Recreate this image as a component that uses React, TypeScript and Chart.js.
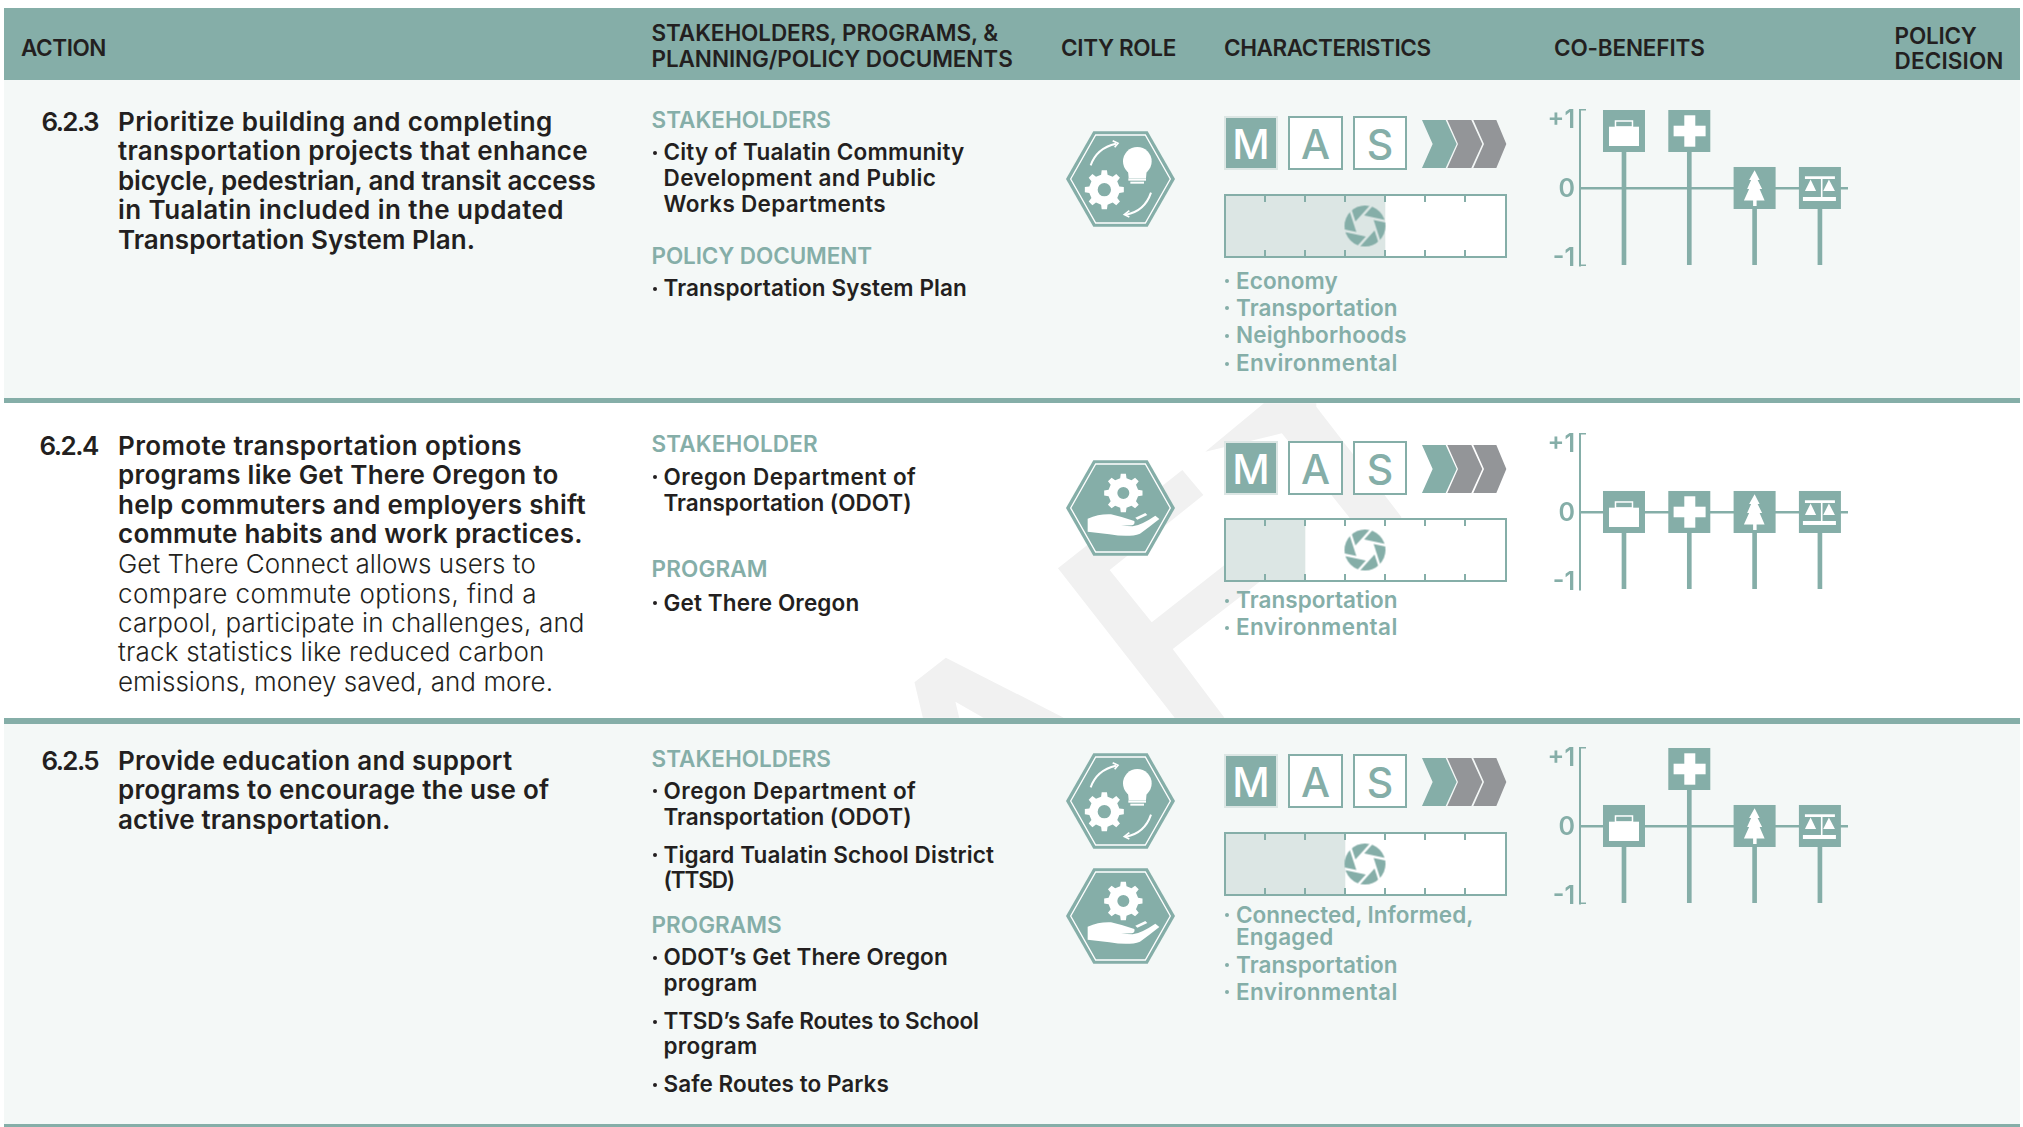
import React, { useEffect, useRef } from "react";
import { Chart, registerables } from "chart.js";

Chart.register(...registerables);

// ---------- data ----------
const headerAction = "ACTION";
const headerStake = ["STAKEHOLDERS, PROGRAMS, &", "PLANNING/POLICY DOCUMENTS"];
const headerRole = "CITY ROLE";
const headerChar = "CHARACTERISTICS";
const headerCo = "CO-BENEFITS";
const headerPolicy = ["POLICY", "DECISION"];

const actionIds = ["6.2.3", "6.2.4", "6.2.5"];
const action1Bold = [
  "Prioritize building and completing",
  "transportation projects that enhance",
  "bicycle, pedestrian, and transit access",
  "in Tualatin included in the updated",
  "Transportation System Plan.",
];
const action2Bold = [
  "Promote transportation options",
  "programs like Get There Oregon to",
  "help commuters and employers shift",
  "commute habits and work practices.",
];
const action2Light = [
  "Get There Connect allows users to",
  "compare commute options, find a",
  "carpool, participate in challenges, and",
  "track statistics like reduced carbon",
  "emissions, money saved, and more.",
];
const action3Bold = [
  "Provide education and support",
  "programs to encourage the use of",
  "active transportation.",
];

const coBenefitCategories = ["Economy", "Health", "Environment", "Equity"];
const coBenefitRow1 = [1, 1, 0, 0];
const coBenefitRow2 = [0, 0, 0, 0];
const coBenefitRow3 = [0, 1, 0, 0];
const coBenefitTicks = [1, 0, -1];

const progressSteps = 7;
const progressRow1 = [4];
const progressRow2 = [2];
const progressRow3 = [3];

// ---------- styling ----------
const TEAL = "#85aea8";
const DARK = "#231f20";
const PALE = "#f4f8f7";
const FILL = "#dce6e4";
const GRAY = "#939598";
const FONT = "Inter, 'Noto Sans', sans-serif";

const measureCtx = document.createElement("canvas").getContext("2d")!;

// `r` is the right end of the line: the tracking is set so that the line ends there.
function Line({ x, y, r, text, size, weight = 500, color = DARK }: any) {
  measureCtx.font = `${weight} ${size}px Inter`;
  const w = measureCtx.measureText(text).width;
  const ls = r ? (r - x - w) / text.length : 0;
  return (
    <div
      style={{
        position: "absolute",
        left: x,
        top: y - 20,
        height: 40,
        lineHeight: "40px",
        fontFamily: FONT,
        fontSize: size,
        fontWeight: weight,
        color,
        letterSpacing: ls,
        whiteSpace: "nowrap",
      }}
    >
      {text}
    </div>
  );
}

const H = { size: 22.5, weight: 600 };
const A = { size: 26, weight: 600 };
const AL = { size: 26, weight: 300 };
const SH = { size: 22.5, weight: 600, color: TEAL };
const SB = { size: 22.5, weight: 600 };
const CH = { size: 22.5, weight: 600, color: TEAL };

function Bullet({ x, y, color = DARK }: any) {
  return (
    <div
      style={{
        position: "absolute",
        left: x,
        top: y - 1.5,
        width: 4,
        height: 4,
        borderRadius: 2,
        background: color,
      }}
    />
  );
}

function gearPath(cx: number, cy: number, R: number, hole: number) {
  const teeth = 8;
  const root = R * 0.78;
  const pts: string[] = [];
  for (let i = 0; i < teeth; i++) {
    const a = (i * 2 * Math.PI) / teeth - Math.PI / 2;
    const d = (2 * Math.PI) / teeth;
    const list: [number, number][] = [
      [root, a - d * 0.27],
      [R, a - d * 0.17],
      [R, a + d * 0.17],
      [root, a + d * 0.27],
    ];
    for (const [r, t] of list) {
      pts.push(`${(cx + r * Math.cos(t)).toFixed(1)} ${(cy + r * Math.sin(t)).toFixed(1)}`);
    }
  }
  return (
    `M${pts.join("L")}Z ` +
    `M${cx - hole} ${cy}a${hole} ${hole} 0 1 0 ${2 * hole} 0a${hole} ${hole} 0 1 0 ${-2 * hole} 0Z`
  );
}

function Hex({ x, y, kind }: any) {
  return (
    <svg
      style={{ position: "absolute", left: x, top: y, overflow: "visible" }}
      width={109}
      height={96}
      viewBox="0 0 327 286"
    >
      <polygon points="0,143 82,0 245,0 327,143 245,286 82,286" fill={TEAL} />
      <polygon
        points="14,143 89,11 238,11 313,143 238,275 89,275"
        fill="none"
        stroke="#fff"
        strokeWidth={4}
      />
      {kind === "idea" ? (
        <g>
          <path d={gearPath(115, 175, 59, 20)} fill="#fff" fillRule="evenodd" />
          <circle cx={214} cy={90} r={43} fill="#fff" />
          <polygon points="186,118 242,118 240,140 188,140" fill="#fff" />
          <rect x={187} y={141} width={53} height={7} fill="#fff" />
          <rect x={193} y={151} width={41} height={6} fill="#fff" />
          <path d="M74 102 Q92 50 150 37" fill="none" stroke="#fff" strokeWidth={6} />
          <path d="M140 28 L156 36 L146 48" fill="none" stroke="#fff" strokeWidth={5} />
          <path d="M255 184 Q236 240 180 250" fill="none" stroke="#fff" strokeWidth={6} />
          <path d="M190 238 L175 250 L190 257" fill="none" stroke="#fff" strokeWidth={5} />
        </g>
      ) : (
        <g>
          <path d={gearPath(172, 98, 58, 18)} fill="#fff" fillRule="evenodd" />
          <path
            d="M65 175 Q100 160 135 162 Q170 170 205 182 Q208 192 198 195 L165 196 L200 198 Q225 195 268 166 L280 176 Q250 200 222 220 Q190 232 130 222 L65 214 Z"
            fill="#fff"
          />
          <path d="M208 172 L238 158 L244 164 L214 178 Z" fill="#fff" />
        </g>
      )}
    </svg>
  );
}

function Mas({ y }: any) {
  const boxes = [
    { l: "M", x: 1224, w: 54, on: true },
    { l: "A", x: 1288, w: 55, on: false },
    { l: "S", x: 1353, w: 54, on: false },
  ];
  return (
    <>
      {boxes.map((b) => (
        <div
          key={b.l}
          style={{
            position: "absolute",
            left: b.x,
            top: y,
            width: b.w,
            height: 54,
            boxSizing: "border-box",
            paddingTop: 1,
            background: b.on ? TEAL : "#fff",
            border: `2px solid ${b.on ? FILL : TEAL}`,
            color: b.on ? "#fff" : TEAL,
            fontFamily: FONT,
            fontSize: 41,
            fontWeight: 500,
            display: "flex",
            alignItems: "center",
            justifyContent: "center",
          }}
        >
          {b.l}
        </div>
      ))}
      <svg
        style={{ position: "absolute", left: 1421, top: y + 4 }}
        width={86}
        height={48}
        viewBox="1113 60 254 144"
      >
        <polygon points="1114,60 1185,60 1218,132 1185,204 1114,204 1146,132" fill={TEAL} />
        <polygon points="1190,60 1262,60 1295,132 1262,204 1190,204 1222,132" fill={GRAY} />
        <polygon points="1268,60 1337,60 1367,132 1337,204 1268,204 1300,132" fill={GRAY} />
      </svg>
    </>
  );
}

// ---------- icons for the co-benefit marks ----------
function glyph(ctx: CanvasRenderingContext2D, name: string) {
  ctx.fillStyle = "#fff";
  ctx.strokeStyle = "#fff";
  if (name === "Economy") {
    ctx.fillRect(6, 16.7, 30, 19.3);
    ctx.lineWidth = 1.5;
    ctx.strokeRect(12.5, 11, 17, 6);
  } else if (name === "Health") {
    ctx.fillRect(5.3, 15.7, 32, 10.6);
    ctx.fillRect(16, 5.3, 11, 31.4);
  } else if (name === "Environment") {
    ctx.beginPath();
    const p = [
      [21, 3.3], [26, 13], [24, 13], [28.5, 22], [26, 22], [31, 33.5], [23, 33.5], [23, 39],
      [19.5, 39], [19.5, 33.5], [10.3, 33.5], [15.5, 22], [13.5, 22], [17.5, 13], [15.5, 13],
    ];
    p.forEach(([a, b], i) => (i ? ctx.lineTo(a, b) : ctx.moveTo(a, b)));
    ctx.closePath();
    ctx.fill();
  } else {
    ctx.fillRect(6, 9.3, 30, 2.7);
    ctx.fillRect(22, 12, 1.6, 19);
    ctx.fillRect(4, 30, 33, 4);
    const tri = (a: number, b: number, c: number) => {
      ctx.beginPath();
      ctx.moveTo(a, 12.5);
      ctx.lineTo(b, 24);
      ctx.lineTo(c, 24);
      ctx.closePath();
      ctx.fill();
    };
    tri(11.7, 6, 17.2);
    tri(30, 24.3, 36);
  }
}

const lollipopPlugin = {
  id: "lollipopIcons",
  afterDatasetsDraw(chart: any, _args: any, opts: any) {
    const { ctx, chartArea, scales } = chart;
    const meta = chart.getDatasetMeta(0);
    const values: number[] = chart.data.datasets[0].data.map((d: any) => d.y[1]);
    // small brackets closing the value axis
    ctx.save();
    ctx.fillStyle = TEAL;
    ctx.fillRect(chartArea.left, chartArea.top - 1, 6, 1.5);
    if (opts.bottomBracket) ctx.fillRect(chartArea.left, chartArea.bottom - 0.5, 6, 1.5);
    meta.data.forEach((bar: any, i: number) => {
      const s = 42;
      const yp = scales.y.getPixelForValue(values[i]);
      const top = Math.max(yp - s / 2, chartArea.top);
      const left = bar.x - s / 2;
      ctx.fillStyle = TEAL;
      ctx.fillRect(left, top, s, s);
      ctx.save();
      ctx.translate(left, top);
      glyph(ctx, coBenefitCategories[i]);
      ctx.restore();
    });
    ctx.restore();
  },
};

function apertureSprite(r: number) {
  const c = document.createElement("canvas");
  c.width = c.height = 2 * r + 2;
  const g = c.getContext("2d")!;
  const o = r + 1;
  g.fillStyle = TEAL;
  g.beginPath();
  g.arc(o, o, r, 0, Math.PI * 2);
  g.fill();
  g.globalCompositeOperation = "destination-out";
  const ri = r * 0.5;
  const v: [number, number][] = [];
  for (let i = 0; i < 6; i++) {
    const a = ((i * 60 - 48) * Math.PI) / 180;
    v.push([o + ri * Math.cos(a), o + ri * Math.sin(a)]);
  }
  g.beginPath();
  v.forEach(([a, b], i) => (i ? g.lineTo(a, b) : g.moveTo(a, b)));
  g.closePath();
  g.fill();
  g.lineWidth = 2.4;
  for (let i = 0; i < 6; i++) {
    const [x0, y0] = v[i];
    const [x1, y1] = v[(i + 1) % 6];
    const dx = x1 - x0;
    const dy = y1 - y0;
    const len = Math.hypot(dx, dy);
    g.beginPath();
    g.moveTo(x0, y0);
    g.lineTo(x1 + (dx / len) * r * 2, y1 + (dy / len) * r * 2);
    g.stroke();
  }
  return c;
}

const progressPlugin = {
  id: "progressFrame",
  beforeDatasetsDraw(chart: any) {
    const { ctx, chartArea } = chart;
    ctx.save();
    ctx.fillStyle = "#fff";
    ctx.fillRect(chartArea.left, chartArea.top, chartArea.right - chartArea.left, chartArea.bottom - chartArea.top);
    ctx.restore();
  },
  afterDatasetsDraw(chart: any) {
    const { ctx, chartArea, scales, width, height } = chart;
    ctx.save();
    ctx.fillStyle = TEAL;
    for (let i = 1; i < progressSteps; i++) {
      const x = scales.x.getPixelForValue(i);
      ctx.fillRect(x - 1, 1, 2, 7);
      ctx.fillRect(x - 1, height - 8, 2, 7);
    }
    ctx.strokeStyle = TEAL;
    ctx.lineWidth = 2;
    ctx.strokeRect(1, 1, width - 2, height - 2);
    const sprite = apertureSprite(20.5);
    const cx = scales.x.getPixelForValue(progressSteps / 2);
    const cy = (chartArea.top + chartArea.bottom) / 2;
    ctx.drawImage(sprite, cx - sprite.width / 2, cy - sprite.height / 2);
    ctx.restore();
  },
};

function CoBenefit({ axisTop, values, bottomBracket = true }: { axisTop: number; values: number[]; bottomBracket?: boolean }) {
  const ref = useRef<HTMLCanvasElement>(null);
  useEffect(() => {
    const yMin = -1.116;
    const chart = new Chart(ref.current!, {
      type: "bar",
      data: {
        datasets: [
          {
            label: "Co-benefits",
            data: values.map((v, i) => ({ x: i + 1, y: [yMin, v] })) as any,
            backgroundColor: TEAL,
            barThickness: 4,
            borderSkipped: false,
          },
        ],
      },
      options: {
        animation: false,
        responsive: false,
        layout: { padding: { top: 20, bottom: 20, right: 12, left: 0 } },
        plugins: { legend: { display: false }, tooltip: { enabled: false }, lollipopIcons: { bottomBracket } },
        scales: {
          x: { type: "linear", display: false, min: 0.3265, max: 4.43, offset: false, grid: { display: false } },
          y: {
            min: yMin,
            max: 1.13,
            afterBuildTicks: (s: any) => {
              s.ticks = coBenefitTicks.map((value) => ({ value }));
            },
            afterFit: (s: any) => {
              s.width = 40;
            },
            border: { color: TEAL, width: 2 },
            grid: {
              drawTicks: false,
              color: (c: any) => (c.tick && c.tick.value === 0 ? TEAL : "rgba(0,0,0,0)"),
              lineWidth: 2.5,
            },
            ticks: {
              padding: 5,
              labelOffset: 1.3,
              color: TEAL,
              autoSkip: false,
              font: { family: "Inter", size: 25, weight: 600 },
              callback: (v: any) => (v > 0 ? `+${v}` : `${v}`),
            },
          },
        },
      } as any,
      plugins: [lollipopPlugin],
    });
    return () => chart.destroy();
  }, []);
  return (
    <canvas
      ref={ref}
      width={320}
      height={195}
      style={{ position: "absolute", left: 1540, top: axisTop - 20, width: 320, height: 195 }}
    />
  );
}

function Progress({ top, value }: { top: number; value: number[] }) {
  const ref = useRef<HTMLCanvasElement>(null);
  useEffect(() => {
    const chart = new Chart(ref.current!, {
      type: "bar",
      data: {
        labels: ["Timeframe"],
        datasets: [{ label: "Progress", data: value, backgroundColor: FILL, barPercentage: 1, categoryPercentage: 1 }],
      },
      options: {
        indexAxis: "y",
        animation: false,
        responsive: false,
        layout: { padding: { left: 1, right: 2, top: 0, bottom: 0 } },
        plugins: { legend: { display: false }, tooltip: { enabled: false } },
        scales: {
          x: { type: "linear", display: false, min: 0, max: progressSteps },
          y: { display: false },
        },
      } as any,
      plugins: [progressPlugin],
    });
    return () => chart.destroy();
  }, []);
  return (
    <canvas
      ref={ref}
      width={283}
      height={64}
      style={{ position: "absolute", left: 1224, top, width: 283, height: 64 }}
    />
  );
}

function Rows() {
  const a1Y = [121.5, 151, 180.7, 210.3, 240];
  const a1R = [552.6, 588, 596.8, 564, 475];
  const a2Y = [445.7, 475, 504.6, 534];
  const a2R = [521.8, 558.6, 586, 582.7];
  const a2LY = [563.6, 593.8, 623, 652, 682];
  const a2LR = [535.8, 537, 584.7, 544.5, 553];
  const a3Y = [760.5, 790, 819.5];
  const a3R = [512.4, 549.2, 390.5];
  const AX = 118;
  const SX = 651.5;
  const BX = 663.5;
  const CX = 1236;
  const stake = (y: number, text: string, r: number) => (
    <Line x={SX} y={y} r={r} text={text} {...SH} key={"h" + y} />
  );
  const item = (y: number, text: string, r: number, bullet = true) => (
    <React.Fragment key={"i" + y}>
      {bullet && <Bullet x={652.5} y={y} />}
      <Line x={BX} y={y} r={r} text={text} {...SB} />
    </React.Fragment>
  );
  const ch = (y: number, text: string, r: number, bullet = true) => (
    <React.Fragment key={"c" + y}>
      {bullet && <Bullet x={1225} y={y} color={TEAL} />}
      <Line x={CX} y={y} r={r} text={text} {...CH} />
    </React.Fragment>
  );
  return (
    <>
      <Line x={41.5} y={a1Y[0]} r={97.8} text={actionIds[0]} {...A} />
      {action1Bold.map((t, i) => <Line key={t} x={AX} y={a1Y[i]} r={a1R[i]} text={t} {...A} />)}
      <Line x={39.5} y={a2Y[0]} r={97.8} text={actionIds[1]} {...A} />
      {action2Bold.map((t, i) => <Line key={t} x={AX} y={a2Y[i]} r={a2R[i]} text={t} {...A} />)}
      {action2Light.map((t, i) => <Line key={t} x={AX} y={a2LY[i]} r={a2LR[i]} text={t} {...AL} />)}
      <Line x={41.5} y={a3Y[0]} r={98} text={actionIds[2]} {...A} />
      {action3Bold.map((t, i) => <Line key={t} x={AX} y={a3Y[i]} r={a3R[i]} text={t} {...A} />)}

      {stake(119.5, "STAKEHOLDERS", 831)}
      {item(152, "City of Tualatin Community", 964.5)}
      {item(178, "Development and Public", 936.4, false)}
      {item(204, "Works Departments", 886, false)}
      {stake(256, "POLICY DOCUMENT", 872)}
      {item(288, "Transportation System Plan", 967)}

      {stake(443.5, "STAKEHOLDER", 817.8)}
      {item(476.5, "Oregon Department of", 916.3)}
      {item(502.7, "Transportation (ODOT)", 911.6, false)}
      {stake(569.2, "PROGRAM", 767.6)}
      {item(602.7, "Get There Oregon", 859.3)}

      {stake(758.5, "STAKEHOLDERS", 831)}
      {item(790.7, "Oregon Department of", 916.3)}
      {item(816.7, "Transportation (ODOT)", 911.6, false)}
      {item(854.5, "Tigard Tualatin School District", 994)}
      {item(880, "(TTSD)", 734, false)}
      {stake(924.7, "PROGRAMS", 781.7)}
      {item(957, "ODOT\u2019s Get There Oregon", 947.8)}
      {item(983, "program", 757.5, false)}
      {item(1021, "TTSD\u2019s Safe Routes to School", 978.6)}
      {item(1046, "program", 757.5, false)}
      {item(1084, "Safe Routes to Parks", 888.8)}

      {ch(280.5, "Economy", 1338)}
      {ch(307.7, "Transportation", 1397.7)}
      {ch(335.3, "Neighborhoods", 1406.7)}
      {ch(363, "Environmental", 1397.7)}
      {ch(600.3, "Transportation", 1397.7)}
      {ch(627.3, "Environmental", 1397.7)}
      {ch(914.7, "Connected, Informed,", 1473.8)}
      {ch(937.3, "Engaged", 1333.5, false)}
      {ch(964.6, "Transportation", 1397.7)}
      {ch(991.6, "Environmental", 1397.7)}
    </>
  );
}

export default function App() {
  useEffect(() => {
    document.body.style.margin = "0";
    document.body.style.background = "#fff";
  }, []);
  return (
    <div style={{ position: "relative", width: 2023, height: 1127, overflow: "hidden", background: "#fff" }}>
      {/* watermark behind row 2 */}
      <svg style={{ position: "absolute", left: 0, top: 0 }} width={2023} height={1127}>
        <g transform="translate(880,395) scale(0.3827,0.3333)" fill="#f1f1f1">
          <polygon points="90,862 172,788 480,968 270,968 197,920 207,968 112,968" />
          <polygon points="465,520 790,225 845,300 600,525 710,682 1000,420 1060,500 765,762 900,968 770,968" />
          <polygon points="850,170 1003,25 1140,25 1140,35 1362,365 1362,500 1300,500 1225,365 1050,115" />
        </g>
      </svg>

      <div style={{ position: "absolute", left: 4, top: 8, width: 2016, height: 72, background: TEAL }} />
      <div style={{ position: "absolute", left: 4, top: 80, width: 2016, height: 318, background: PALE }} />
      <div style={{ position: "absolute", left: 4, top: 397.5, width: 2016, height: 5.5, background: TEAL }} />
      <div style={{ position: "absolute", left: 4, top: 718, width: 2016, height: 5.5, background: TEAL }} />
      <div style={{ position: "absolute", left: 4, top: 723.5, width: 2016, height: 400.5, background: PALE }} />
      <div style={{ position: "absolute", left: 4, top: 1124, width: 2016, height: 3, background: TEAL }} />

      <Line x={21} y={47.7} r={106} text={headerAction} {...H} />
      <Line x={651.5} y={33} r={999} text={headerStake[0]} {...H} />
      <Line x={651.5} y={59} r={1012.7} text={headerStake[1]} {...H} />
      <Line x={1061} y={47.7} r={1176} text={headerRole} {...H} />
      <Line x={1224} y={47.7} r={1430.6} text={headerChar} {...H} />
      <Line x={1554} y={47.7} r={1704.6} text={headerCo} {...H} />
      <Line x={1894.6} y={35.7} r={1976.7} text={headerPolicy[0]} {...H} />
      <Line x={1894.6} y={60.7} r={2003.6} text={headerPolicy[1]} {...H} />

      <Rows />

      <Hex x={1066} y={131} kind="idea" />
      <Hex x={1066} y={460} kind="hand" />
      <Hex x={1066} y={753} kind="idea" />
      <Hex x={1066} y={868} kind="hand" />

      <Mas y={116} />
      <Mas y={441} />
      <Mas y={754} />

      <Progress top={194} value={progressRow1} />
      <Progress top={518} value={progressRow2} />
      <Progress top={832} value={progressRow3} />

      <CoBenefit axisTop={110} values={coBenefitRow1} />
      <CoBenefit axisTop={433.7} values={coBenefitRow2} bottomBracket={false} />
      <CoBenefit axisTop={748} values={coBenefitRow3} />
    </div>
  );
}
